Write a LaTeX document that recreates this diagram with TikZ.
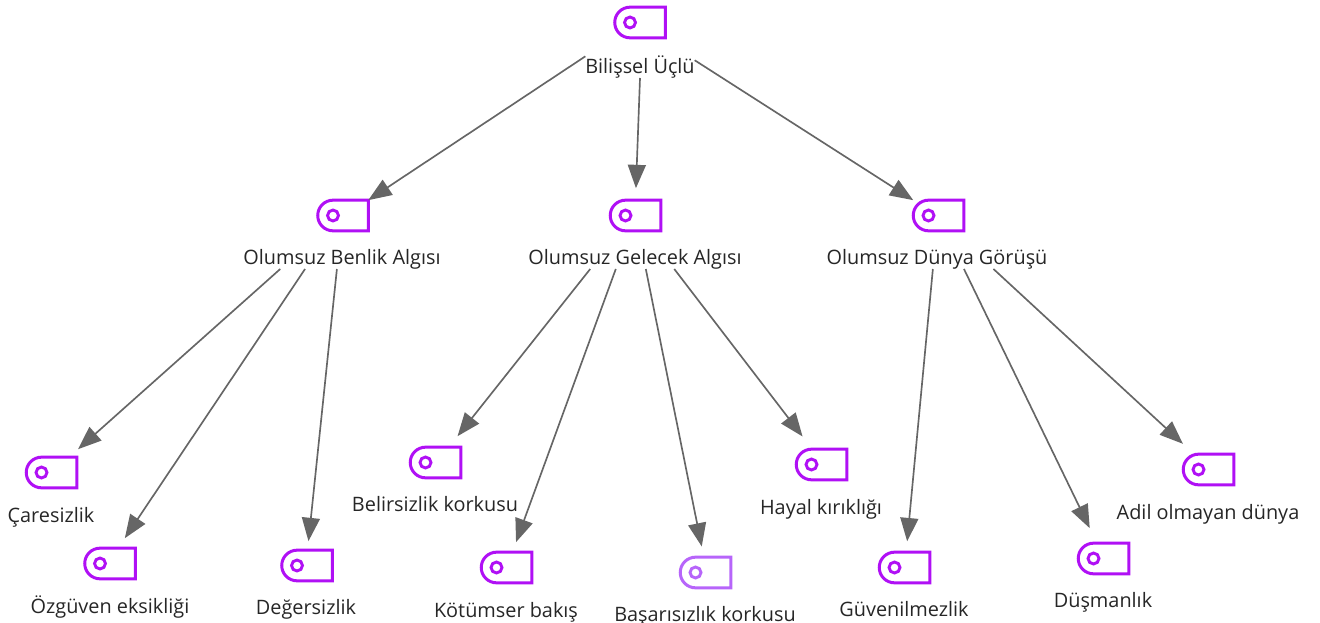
\documentclass[tikz,border=0pt]{standalone}
\usepackage{fontspec}
\setmainfont{Open Sans}
\usetikzlibrary{arrows.meta,shapes.misc}
\definecolor{iconpurple}{HTML}{B010F5}
\definecolor{iconlight}{HTML}{B765FA}
\definecolor{linkgray}{HTML}{666666}
\definecolor{labelink}{HTML}{262626}
\tikzset{
  iconbox/.style={draw=#1,line width=2.25pt,rounded rectangle,rounded rectangle east arc=none,
    rounded rectangle west arc=convex,rounded rectangle arc length=180,minimum width=37.9pt,minimum height=23pt,inner sep=0pt,outer sep=0pt},
  iconbox/.default=iconpurple,
  icondot/.style={draw=#1,line width=2.2pt,circle,minimum size=8.2pt,inner sep=0pt,outer sep=0pt},
  icondot/.default=iconpurple,
  labelbox/.style={font=\fontsize{14.9pt}{17pt}\selectfont,text=labelink,text height=14pt,text depth=3pt,minimum height=18pt,inner sep=0pt,outer sep=0pt},
  link/.style={draw=linkgray,line width=1.25pt,-{Triangle[length=17.5pt,width=13.5pt]}}
}
% name, icon x, icon y, label x, label y, text, colour
\newcommand{\concept}[7]{%
  \node[iconbox=#7] (#1) at (#2,#3) {};
  \node[icondot=#7] (#1d) at (#2-10,#3) {};
  \node[labelbox] (#1l) at (#4,#5) {#6};
}
\begin{document}
\begin{tikzpicture}[x=0.75pt,y=-0.75pt]
\useasboundingbox (0,0) rectangle (1320,623);
\concept{root}{640}{22.5}{640}{66}{Bilişsel Üçlü}{iconpurple}
\concept{ben}{343}{215.5}{342}{257}{Olumsuz Benlik Algısı}{iconpurple}
\concept{gel}{635.5}{215.5}{635}{257}{Olumsuz Gelecek Algısı}{iconpurple}
\concept{dun}{938.5}{215.5}{937}{257}{Olumsuz Dünya Görüşü}{iconpurple}
\concept{car}{51.5}{472.5}{51}{515}{Çaresizlik}{iconpurple}
\concept{ozg}{110}{563.5}{110}{606}{Özgüven eksikliği}{iconpurple}
\concept{deg}{307}{565.5}{306}{607}{Değersizlik}{iconpurple}
\concept{bel}{435.5}{462.5}{435}{504}{Belirsizlik korkusu}{iconpurple}
\concept{kot}{506.5}{567.5}{506}{610}{Kötümser bakış}{iconpurple}
\concept{bas}{705.5}{572.5}{705}{614}{Başarısızlık korkusu}{iconlight}
\concept{hay}{821.5}{464.5}{821}{507}{Hayal kırıklığı}{iconpurple}
\concept{guv}{904.5}{567.5}{904}{609}{Güvenilmezlik}{iconpurple}
\concept{dus}{1103.5}{558.5}{1103}{600}{Düşmanlık}{iconpurple}
\concept{adi}{1208.5}{469.5}{1208}{512}{Adil olmayan dünya}{iconpurple}
\draw[link] (rootl.170.7) -- (ben.north east);
\draw[link,shorten >=9pt] (rootl.270) -- (gel.north);
\draw[link] (rootl.6.2) -- (dun.north -| dun.west);
\draw[link,shorten >=9pt] (benl.191.3) -- (car.41.5);
\draw[link,shorten >=9pt] (benl.198.9) -- (ozg.62);
\draw[link,shorten >=6.8pt] (benl.247.4) -- (deg.88);
\draw[link,shorten >=10.5pt] (gell.195.6) -- (bel.49);
\draw[link,shorten >=8pt] (gell.212.3) -- (kot.69);
\draw[link,shorten >=8.2pt] (gell.312.5) -- (bas.96);
\draw[link,shorten >=12pt] (gell.343.3) -- (hay.121.5);
\draw[link,shorten >=8.2pt] (dunl.251.6) -- (guv.84.5);
\draw[link,shorten >=12.5pt] (dunl.336) -- (dus.113);
\draw[link,shorten >=12pt] (dunl.348.3) -- (adi.133);
\end{tikzpicture}
\end{document}
